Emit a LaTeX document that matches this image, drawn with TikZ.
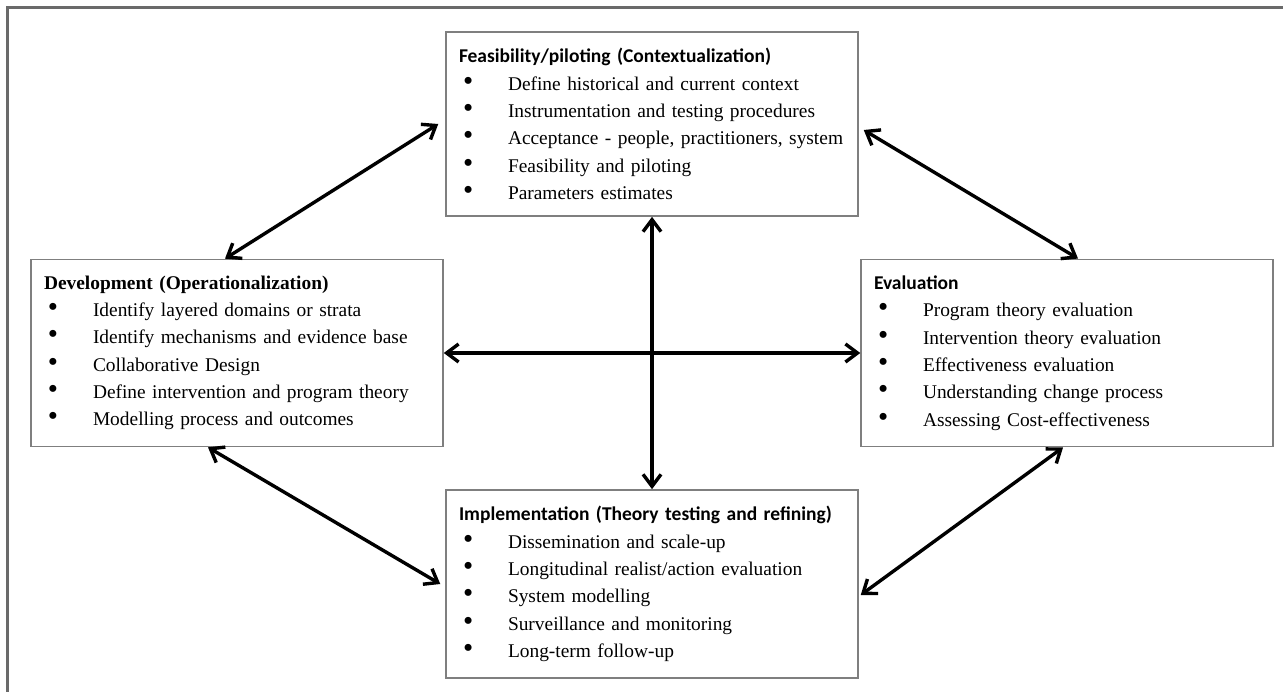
\documentclass[tikz,border=0pt]{standalone}
\usepackage{fontspec}
\setmainfont{Liberation Serif}
\newfontfamily\calfont{Carlito}
\usetikzlibrary{shapes, arrows.meta, positioning}

\definecolor{boxgray}{HTML}{7F7F7F}
\definecolor{framegray}{HTML}{6A6A6A}

\newcommand{\hd}[1]{{\calfont\bfseries\fontsize{19.5}{27.3}\selectfont #1}}
\newcommand{\bul}{\hspace*{4pt}\makebox[45pt][l]{\scalebox{1.5}{\textbullet}}}

\begin{document}
\begin{tikzpicture}[x=1pt, y=-1pt, node distance=230pt,
        box/.style={rectangle, draw=boxgray, line width=1.5pt, text width=386pt,
            inner xsep=13pt, inner ysep=16.5pt, align=left,
            font=\fontsize{19.4}{27.3}\selectfont},
        link/.style={line width=3.4pt,
            {Straight Barb[length=12pt,width=18pt]}-{Straight Barb[length=12pt,width=18pt]}}]
        \useasboundingbox (0,0) rectangle (1283,692);

        % Frame
        \draw[framegray, line width=2.5pt] (1283,7.5) -- (7.5,7.5) -- (7.5,692);

        % Centre of the cross
        \coordinate (c) at (652,353);

        % Stages
        \node[box, above of=c, node distance=229pt] (feas) {\hd{Feasibility/piloting (Contextualization)}\\
            \bul Define historical and current context\\
            \bul Instrumentation and testing procedures\\
            \bul Acceptance - people, practitioners, system\\
            \bul Feasibility and piloting\\
            \bul Parameters estimates};
        \node[box, left of=c, node distance=415pt] (dev) {\textbf{Development (Operationalization)}\\
            \bul Identify layered domains or strata\\
            \bul Identify mechanisms and evidence base\\
            \bul Collaborative Design\\
            \bul Define intervention and program theory\\
            \bul Modelling process and outcomes};
        \node[box, right of=c, node distance=415pt] (eval) {\hd{Evaluation}\\
            \bul Program theory evaluation\\
            \bul Intervention theory evaluation\\
            \bul Effectiveness evaluation\\
            \bul Understanding change process\\
            \bul Assessing Cost-effectiveness};
        \node[box, below of=c, node distance=231pt] (impl) {\hd{Implementation (Theory testing and refining)}\\
            \bul Dissemination and scale-up\\
            \bul Longitudinal realist/action evaluation\\
            \bul System modelling\\
            \bul Surveillance and monitoring\\
            \bul Long-term follow-up};

        % Connections
        \draw[link] ([xshift=-7pt]feas.west) -- ([xshift=-12pt]dev.north);
        \draw[link] ([xshift=5pt,yshift=-6pt]feas.east) -- ([xshift=11pt]eval.north);
        \draw[link] ([xshift=-4pt]eval.south) -- ([xshift=2pt,yshift=-11pt]impl.east);
        \draw[link] ([xshift=-29pt]dev.south) -- ([xshift=-5pt]impl.west);
        \draw[link] (dev.east) -- (eval.west);
        \draw[link] (feas.south) -- (impl.north);
    \end{tikzpicture}
\end{document}
